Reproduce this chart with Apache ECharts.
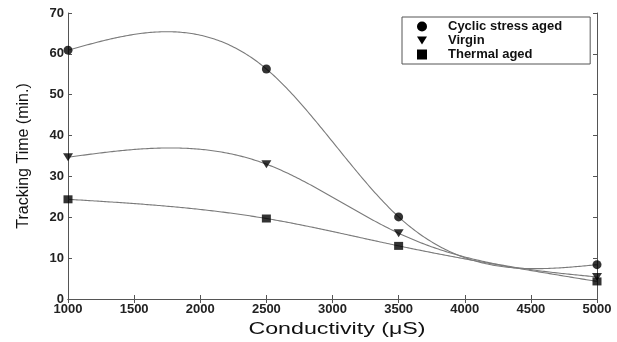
<!DOCTYPE html>
<html><head><meta charset="utf-8">
<script src="https://cdn.jsdelivr.net/npm/echarts@6/dist/echarts.min.js"></script>
<style>html,body{margin:0;padding:0;background:#fff}#c{width:617px;height:342px}</style>
</head><body><div id="c"></div>
<script>
const conductivity = [1000, 2500, 3500, 5000];
const cyclicStressAged = [60.9, 56.3, 20.1, 8.4];
const virgin = [34.7, 33.0, 16.1, 5.4];
const thermalAged = [24.4, 19.7, 13.0, 4.3];
const seriesNames = ['Cyclic stress aged', 'Virgin', 'Thermal aged'];
const xTicks = [1000, 1500, 2000, 2500, 3000, 3500, 4000, 4500, 5000];
const yTicks = [0, 10, 20, 30, 40, 50, 60, 70];

const invTri = 'path://M0,0L10,0L5,8Z';
const symbols = ['circle', invTri, 'rect'];
const sizes = [9, [10, 8], [9, 8]];
const values = [cyclicStressAged, virgin, thermalAged];

// natural cubic spline through the data points (rendering of the curve)
function naturalSpline(xs, ys) {
  const n = xs.length, h = [], M = new Array(n).fill(0);
  for (let i = 0; i < n - 1; i++) h.push(xs[i + 1] - xs[i]);
  const a = [], b = [], c = [], d = [];
  for (let i = 1; i < n - 1; i++) {
    a.push(h[i - 1]); b.push(2 * (h[i - 1] + h[i])); c.push(h[i]);
    d.push(6 * ((ys[i + 1] - ys[i]) / h[i] - (ys[i] - ys[i - 1]) / h[i - 1]));
  }
  const m = b.length;
  for (let i = 1; i < m; i++) { const w = a[i] / b[i - 1]; b[i] -= w * c[i - 1]; d[i] -= w * d[i - 1]; }
  const sol = new Array(m);
  for (let i = m - 1; i >= 0; i--) sol[i] = (d[i] - (i < m - 1 ? c[i] * sol[i + 1] : 0)) / b[i];
  for (let i = 0; i < m; i++) M[i + 1] = sol[i];
  return function (x) {
    let k = 0;
    while (k < n - 2 && x > xs[k + 1]) k++;
    const hk = h[k], A = (xs[k + 1] - x) / hk, B = (x - xs[k]) / hk;
    return A * ys[k] + B * ys[k + 1] + ((A * A * A - A) * M[k] + (B * B * B - B) * M[k + 1]) * hk * hk / 6;
  };
}

const chart = echarts.init(document.getElementById('c'));
const font = 'Liberation Sans, Arial, sans-serif';
const axisLine = {show: true, lineStyle: {color: '#555', width: 1}};
const tick = {show: true, inside: true, length: 4, lineStyle: {color: '#555'}};

const curveSeries = seriesNames.map((n, i) => {
  const f = naturalSpline(conductivity, values[i]);
  return {
    name: n, type: 'custom', z: 1, silent: true,
    data: conductivity.map((x, j) => [x, values[i][j]]),
    encode: {x: 0, y: 1},
    renderItem: function (params, api) {
      if (params.dataIndex !== 0) return;
      const x0 = conductivity[0], x1 = conductivity[conductivity.length - 1];
      const pts = [];
      for (let s = 0; s <= 300; s++) {
        const x = x0 + (x1 - x0) * s / 300;
        pts.push(api.coord([x, f(x)]));
      }
      return {type: 'polyline', shape: {points: pts},
        style: {stroke: '#7a7a7a', lineWidth: 1.1, fill: null}};
    }
  };
});
const markerSeries = seriesNames.map((n, i) => ({
  name: n, type: 'scatter', z: 3,
  data: conductivity.map((x, j) => [x, values[i][j]]),
  symbol: symbols[i], symbolSize: sizes[i],
  itemStyle: {color: '#000'}
}));

chart.setOption({
  animation: false,
  backgroundColor: '#fff',
  grid: {left: 68, right: 20, top: 13, bottom: 43},
  legend: {
    orient: 'vertical', left: 402, top: 17,
    borderColor: '#555', borderWidth: 1, padding: [3, 28, 3, 15],
    itemGap: 1, itemWidth: 10, itemHeight: 10,
    textStyle: {fontFamily: font, fontSize: 13, fontWeight: 'bold', color: '#111', padding: [0, 0, 0, 16]},
    data: seriesNames.map((n, i) => ({name: n, icon: symbols[i], itemStyle: {color: '#000'}}))
  },
  graphic: [{
    type: 'text', x: 337, y: 330, scaleX: 1.45,
    style: {text: 'Conductivity (\u03bcS)', font: '16px Liberation Sans, Arial, sans-serif',
      fill: '#111', textAlign: 'center', textVerticalAlign: 'middle'}
  }],
  xAxis: [{
    type: 'value', min: 1000, max: 5000, interval: 500,
    axisLine: axisLine, axisTick: tick, splitLine: {show: false},
    axisLabel: {fontFamily: font, fontSize: 13, fontWeight: 'bold', color: '#222', margin: 4,
      formatter: v => xTicks.includes(v) ? String(v) : ''}
  }, {
    type: 'value', position: 'top', min: 1000, max: 5000, interval: 500,
    axisLine: axisLine, axisTick: tick, axisLabel: {show: false}, splitLine: {show: false}
  }],
  yAxis: [{
    type: 'value', min: 0, max: 70, interval: 10,
    name: 'Tracking Time (min.)', nameLocation: 'middle', nameGap: 36,
    nameTextStyle: {fontFamily: font, fontSize: 16, color: '#111'},
    axisLine: axisLine, axisTick: tick, splitLine: {show: false},
    axisLabel: {fontFamily: font, fontSize: 13, fontWeight: 'bold', color: '#222', margin: 4,
      formatter: v => yTicks.includes(v) ? String(v) : ''}
  }, {
    type: 'value', position: 'right', min: 0, max: 70, interval: 10,
    axisLine: axisLine, axisTick: tick, axisLabel: {show: false}, splitLine: {show: false}
  }],
  series: curveSeries.concat(markerSeries)
});
</script></body></html>
